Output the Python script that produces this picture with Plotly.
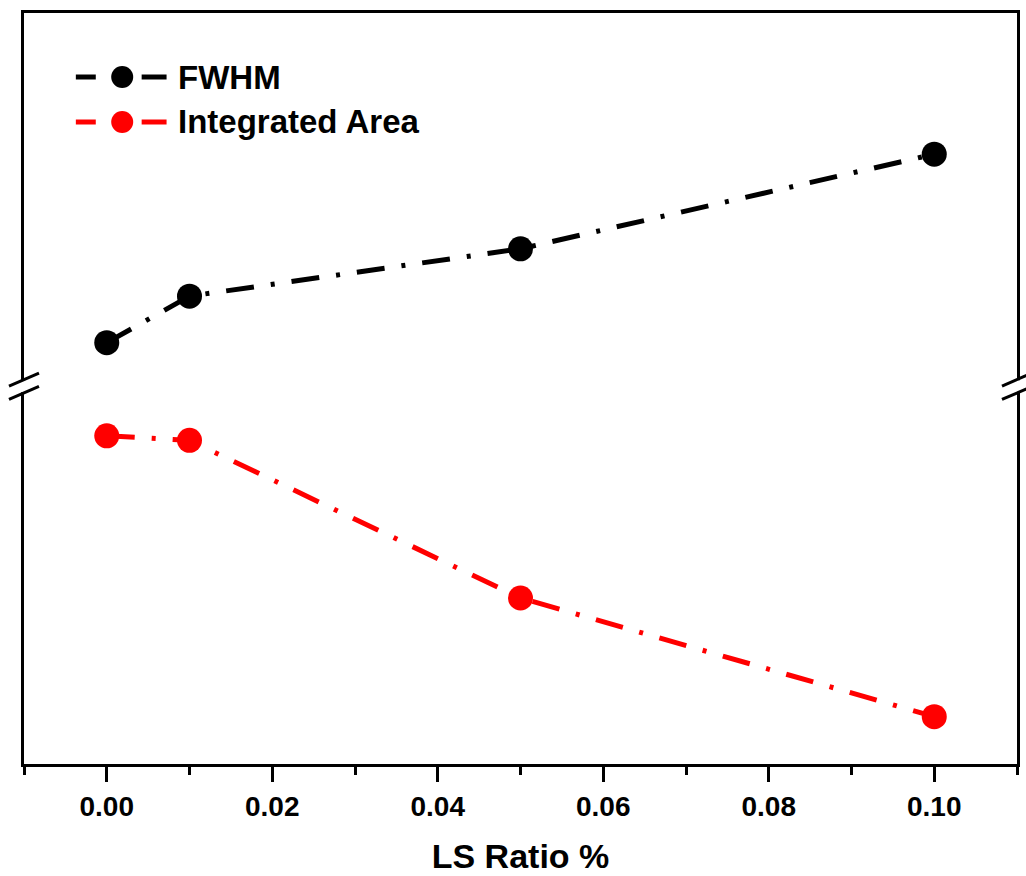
import plotly.graph_objects as go

# ---- data (y in arbitrary units, no y tick labels) ----
ls_ratio = [0.00, 0.01, 0.05, 0.10]
fwhm = [56.1, 62.3, 68.6, 81.2]
integrated_area = [43.7, 43.1, 22.1, 6.3]
x_tickvals = [0.00, 0.02, 0.04, 0.06, 0.08, 0.10]
x_ticktext = ["0.00", "0.02", "0.04", "0.06", "0.08", "0.10"]
series_names = ["FWHM", "Integrated Area"]
series_colors = ["#000000", "#ff0000"]

W, H = 1026, 876
ML, MR, MT, MB = 24, 6, 13, 112
PW, PH = W - ML - MR, H - MT - MB

def px_x(px):  # reference pixel -> paper
    return (px - ML) / PW

def px_y(py):
    return (H - MB - py) / PH

FONT = "Liberation Sans, Arial, sans-serif"
DASH = "28px,17px,4px,17px"

fig = go.Figure()
for name, ys, col in zip(series_names, [fwhm, integrated_area], series_colors):
    fig.add_trace(go.Scatter(
        x=ls_ratio, y=ys, name=name, mode="lines+markers",
        line=dict(color=col, width=5, dash=DASH),
        marker=dict(color=col, size=25, line=dict(width=0)),
        showlegend=False,
    ))

shapes = []
# axis break marks (left and right)
break_y = 50.3
for xa in (0, 1):
    shapes.append(dict(type="rect", xref="paper", yref="y", xsizemode="pixel", ysizemode="pixel",
                       xanchor=xa, yanchor=break_y, x0=-4, x1=4, y0=-6, y1=6,
                       fillcolor="white", line=dict(width=0), layer="above"))
    for off in (6.7, -6.7):
        shapes.append(dict(type="line", xref="paper", yref="y", xsizemode="pixel", ysizemode="pixel",
                           xanchor=xa, yanchor=break_y, x0=-15, x1=15, y0=off - 6.5, y1=off + 6.5,
                           line=dict(color="black", width=3), layer="above"))

# custom legend
annotations = []
legend_rows = [77, 122]
for name, col, ry in zip(series_names, series_colors, legend_rows):
    yv = px_y(ry)
    shapes.append(dict(type="line", xref="paper", yref="paper", x0=px_x(76), x1=px_x(96), y0=yv, y1=yv,
                       line=dict(color=col, width=5)))
    shapes.append(dict(type="line", xref="paper", yref="paper", x0=px_x(142), x1=px_x(167), y0=yv, y1=yv,
                       line=dict(color=col, width=5)))
    shapes.append(dict(type="circle", xref="paper", yref="paper", xsizemode="pixel", ysizemode="pixel",
                       xanchor=px_x(122.5), yanchor=yv, x0=-11, x1=11, y0=-11, y1=11,
                       fillcolor=col, line=dict(width=0)))
    annotations.append(dict(text=name, xref="paper", yref="paper", x=px_x(176), y=yv,
                            xanchor="left", yanchor="middle", showarrow=False,
                            font=dict(family=FONT, size=33, color="black", weight="bold")))

fig.update_layout(
    width=W, height=H,
    margin=dict(l=ML, r=MR, t=MT, b=MB),
    paper_bgcolor="white", plot_bgcolor="white",
    showlegend=False,
    shapes=shapes, annotations=annotations,
    xaxis=dict(
        range=[-0.01, 0.11], tickvals=x_tickvals, ticktext=x_ticktext,
        ticks="outside", ticklen=15, tickwidth=3, tickcolor="black",
        minor=dict(dtick=0.01, tick0=0, ticks="outside", ticklen=8, tickwidth=3, tickcolor="black"),
        showline=True, linewidth=3, linecolor="black", mirror=True,
        showgrid=False, zeroline=False,
        tickfont=dict(family=FONT, size=28, color="black", weight="bold"),
        title=dict(text="LS Ratio %", standoff=24,
                   font=dict(family=FONT, size=34, color="black", weight="bold")),
    ),
    yaxis=dict(
        range=[0, 100], showticklabels=False, ticks="",
        showline=True, linewidth=3, linecolor="black", mirror=True,
        showgrid=False, zeroline=False,
    ),
)

fig.write_html("out.html",
               config={"displayModeBar": False},
               post_script="document.body.style.margin='0';document.body.style.overflow='hidden';")
